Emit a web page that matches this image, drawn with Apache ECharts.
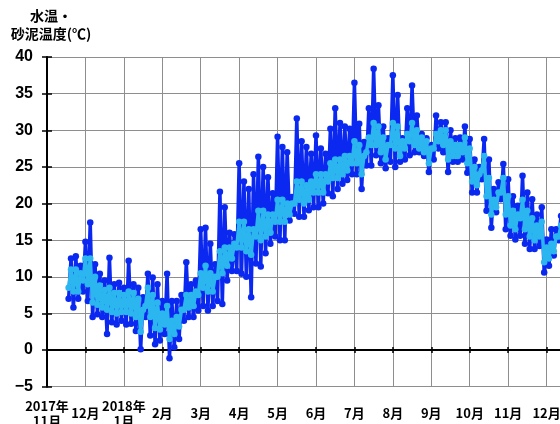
<!DOCTYPE html>
<html>
<head>
<meta charset="utf-8">
<script src="https://cdn.jsdelivr.net/npm/echarts@6/dist/echarts.min.js"></script>
<style>
  html, body { margin: 0; padding: 0; background: #fff; }
  #chart { width: 560px; height: 424px; }
</style>
</head>
<body>
<div id="chart"></div>
<script>
// Month tick labels; the x axis counts months from 1 Nov 2017 (one unit per month).
const monthLabels = ['2017年\n11月', '12月', '2018年\n1月', '2月', '3月', '4月', '5月',
  '6月', '7月', '8月', '9月', '10月', '11月', '12月'];

// Samples: 8 per month, the first one about 18 Nov 2017.
const sampleStart = 0.5625;      // in months after 1 Nov 2017
const samplesPerMonth = 8;

// Water temperature (°C): high and low of each sample period.
const waterHigh = [
  12.5, 12.8, 11.5, 14.8, 17.4, 11.7, 10.4, 9.5, 12.6, 9.0,
  9.2, 8.5, 12.2, 9.0, 8.5, 7.2, 10.4, 9.9, 9.0, 6.7,
  10.4, 6.7, 6.7, 7.5, 12.0, 9.0, 9.5, 16.5, 16.7, 14.5,
  11.7, 21.6, 19.5, 16.0, 15.8, 25.5, 23.0, 22.0, 24.0, 26.4,
  25.0, 23.6, 21.4, 29.1, 27.7, 27.0, 20.9, 31.6, 28.5, 27.7,
  26.8, 29.3, 27.5, 26.8, 30.2, 33.0, 31.0, 30.5, 30.2, 36.5,
  30.9, 28.4, 33.0, 38.4, 33.4, 30.5, 28.9, 37.5, 34.8, 28.9,
  33.0, 36.1, 32.0, 29.5, 28.9, 28.0, 32.0, 31.1, 31.1, 30.0,
  28.9, 29.0, 30.5, 28.8, 26.0, 25.0, 28.8, 26.0, 22.0, 22.9,
  25.4, 23.3, 21.0, 19.7, 23.8, 21.5, 20.6, 18.5, 19.5, 15.1,
  16.5, 16.5, 18.3, 18.0
];
const waterLow = [
  7.0, 5.8, 7.0, 8.0, 6.7, 4.5, 4.9, 4.5, 2.2, 3.8,
  3.5, 4.0, 3.5, 3.6, 2.6, 0.1, 4.5, 2.0, 0.8, 1.3,
  2.2, -1.1, 0.4, 1.5, 4.0, 4.5, 4.5, 5.4, 6.0, 5.4,
  6.0, 6.7, 6.3, 9.5, 10.8, 10.8, 10.4, 10.0, 7.2, 11.8,
  11.4, 13.2, 14.5, 15.5, 15.0, 15.0, 17.7, 18.6, 18.2, 18.2,
  19.1, 19.5, 19.5, 20.0, 21.4, 21.0, 22.0, 22.7, 23.2, 24.0,
  24.0, 22.0, 25.2, 25.2, 26.6, 25.5, 24.8, 25.7, 25.0, 25.7,
  26.0, 26.6, 27.0, 27.0, 26.5, 24.3, 26.0, 27.5, 27.0, 24.3,
  25.7, 25.7, 26.0, 24.2, 21.5, 21.5, 23.3, 19.0, 16.7, 18.8,
  20.6, 16.5, 15.6, 15.1, 15.6, 14.5, 13.8, 13.8, 14.2, 10.6,
  11.5, 12.9, 15.0, 15.5
];

// Sand/mud temperature (°C): high and low of each sample period.
const mudHigh = [
  11.0, 11.0, 10.5, 12.5, 12.5, 10.0, 8.8, 8.2, 8.5, 7.8,
  7.8, 7.5, 8.0, 7.8, 7.0, 5.5, 8.5, 7.5, 6.5, 5.0,
  6.0, 4.0, 4.5, 5.5, 7.5, 7.5, 8.0, 10.5, 11.5, 10.5,
  10.0, 13.5, 14.0, 14.0, 14.5, 17.5, 17.5, 16.5, 16.5, 19.0,
  19.0, 18.5, 18.5, 20.5, 20.5, 20.0, 20.0, 23.0, 23.0, 22.5,
  23.0, 24.0, 24.0, 24.0, 25.5, 26.0, 26.0, 26.5, 26.5, 28.5,
  28.0, 26.5, 29.0, 31.0, 30.5, 29.0, 28.0, 31.0, 30.5, 28.5,
  29.5, 31.0, 30.0, 29.0, 28.5, 27.5, 29.5, 30.0, 30.0, 28.5,
  28.0, 28.0, 29.0, 27.5, 25.0, 24.0, 26.5, 23.5, 20.5, 21.5,
  23.5, 21.0, 19.0, 18.5, 20.5, 19.0, 18.0, 17.0, 17.5, 14.0,
  14.5, 15.5, 17.0, 17.0
];
const mudLow = [
  8.5, 8.0, 8.0, 9.5, 9.0, 6.5, 6.2, 5.8, 5.5, 5.2,
  5.0, 5.2, 5.2, 5.0, 4.5, 2.5, 6.0, 4.5, 3.0, 2.8,
  3.5, 1.5, 2.2, 3.2, 5.5, 5.8, 6.0, 7.5, 8.5, 8.0,
  8.0, 10.0, 10.5, 11.5, 12.5, 14.0, 14.0, 13.5, 13.0, 15.5,
  15.0, 15.5, 16.0, 17.5, 17.5, 17.5, 18.5, 20.0, 20.5, 20.0,
  20.5, 21.5, 21.5, 21.5, 23.0, 23.5, 23.5, 24.0, 24.5, 25.5,
  25.5, 24.0, 27.0, 28.0, 28.0, 27.0, 26.0, 28.0, 27.5, 26.5,
  27.5, 28.5, 28.0, 27.5, 27.0, 25.5, 27.5, 28.5, 28.0, 26.0,
  26.5, 26.5, 27.0, 25.5, 23.0, 22.5, 24.5, 21.0, 18.5, 19.5,
  21.5, 18.5, 17.0, 16.5, 18.0, 16.5, 15.5, 15.0, 15.5, 12.0,
  12.5, 13.5, 15.5, 16.0
];

// Each sample period becomes a low point followed by a high point.
function zigzag(low, high) {
  const pts = [];
  for (let i = 0; i < low.length; i++) {
    const m = sampleStart + i / samplesPerMonth;
    pts.push([m, low[i]]);
    pts.push([m + 0.5 / samplesPerMonth, high[i]]);
  }
  return pts;
}

const X_MIN = 0, X_MAX = 13.87;
const GRID_COLOR = '#8e8e8e';
const labelFont = '"Noto Sans CJK JP", "Noto Sans", sans-serif';

const chart = echarts.init(document.getElementById('chart'), null, { renderer: 'canvas' });

const baseX = { type: 'value', min: X_MIN, max: X_MAX, interval: 1 };
const baseY = { type: 'value', min: -5, max: 40, interval: 5 };

chart.setOption({
  animation: false,
  backgroundColor: '#fff',
  grid: { left: 47, right: -20, top: 57, bottom: 37.3, containLabel: false, outerBoundsMode: 'none' },
  graphic: [
    { type: 'text', x: 51, y: 15.5, silent: true,
      style: { text: '水温・', align: 'center', verticalAlign: 'middle',
        font: 'bold 14px ' + labelFont, fill: '#000' } },
    { type: 'text', x: 51, y: 34, silent: true,
      style: { text: '砂泥温度(℃)', align: 'center', verticalAlign: 'middle',
        font: 'bold 14px ' + labelFont, fill: '#000' } }
  ],
  xAxis: [
    Object.assign({}, baseX, {
      position: 'bottom',
      axisLine: { show: false, onZero: false },
      axisTick: { show: false },
      splitLine: { show: true, lineStyle: { color: GRID_COLOR, width: 1 } },
      axisLabel: {
        show: true, interval: 0, margin: 26.5, verticalAlign: 'middle', lineHeight: 15,
        color: '#000', fontSize: 13, fontWeight: 'bold', fontFamily: labelFont,
        showMaxLabel: false,
        formatter: function (v) {
          return Number.isInteger(v) && monthLabels[v] !== undefined ? monthLabels[v] : '';
        }
      }
    }),
    Object.assign({}, baseX, {
      position: 'bottom',
      axisLine: { show: true, onZero: true, onZeroAxisIndex: 0, lineStyle: { color: '#000', width: 2 } },
      axisTick: { show: true, inside: true, length: 3, lineStyle: { color: '#000', width: 1.5 } },
      axisLabel: { show: false },
      splitLine: { show: false }
    }),
    Object.assign({}, baseX, {
      position: 'bottom',
      axisLine: { show: false, onZero: true, onZeroAxisIndex: 0 },
      axisTick: { show: true, inside: false, length: 3, lineStyle: { color: '#000', width: 1.5 } },
      axisLabel: { show: false },
      splitLine: { show: false }
    })
  ],
  yAxis: [
    Object.assign({}, baseY, {
      position: 'left',
      axisLine: { show: true, onZero: false, lineStyle: { color: '#000', width: 2 } },
      axisTick: { show: true, inside: false, length: 5, lineStyle: { color: '#000', width: 1.5 } },
      splitLine: { show: true, lineStyle: { color: GRID_COLOR, width: 1 } },
      axisLabel: {
        color: '#000', fontSize: 16, fontWeight: 'bold', margin: 14,
        fontFamily: '"Liberation Sans", Arial, sans-serif',
        formatter: function (v) { return v < 0 ? '\u2212' + Math.abs(v) : String(v); }
      }
    }),
    Object.assign({}, baseY, {
      position: 'left',
      axisLine: { show: false, onZero: false },
      axisTick: { show: true, inside: true, length: 5, lineStyle: { color: '#000', width: 1.5 } },
      splitLine: { show: false },
      axisLabel: { show: false }
    })
  ],
  series: [
    {
      name: '水温', type: 'line', xAxisIndex: 0, yAxisIndex: 0,
      data: zigzag(waterLow, waterHigh),
      symbol: 'circle', symbolSize: 6.5, showSymbol: true,
      itemStyle: { color: '#0a28f0' },
      lineStyle: { color: '#0a28f0', width: 3.5 },
      z: 2
    },
    {
      name: '砂泥温度', type: 'line', xAxisIndex: 0, yAxisIndex: 0,
      data: zigzag(mudLow, mudHigh),
      symbol: 'circle', symbolSize: 6.5, showSymbol: true,
      itemStyle: { color: '#2cb6f0' },
      lineStyle: { color: '#2cb6f0', width: 3.5 },
      z: 3
    }
  ]
});
</script>
</body>
</html>
